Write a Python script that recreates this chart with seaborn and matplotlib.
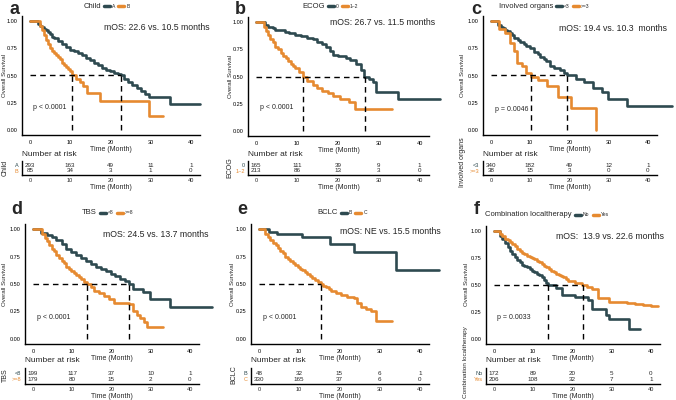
import numpy as np
import pandas as pd
import seaborn as sns
import matplotlib
matplotlib.use("Agg")
import matplotlib.pyplot as plt
from matplotlib.lines import Line2D

sns.set_style("white")
plt.rcParams['font.family'] = ['Liberation Sans', 'DejaVu Sans']

DARK = "#2E4A50"
ORANGE = "#E68A30"

risk_times = [0, 10, 20, 30, 40]

# ---- panel a : Child ----
a_title = "Child"
a_groups = ["A", "B"]
a_t1 = [0, 2, 2.5, 3, 3.5, 4, 4.5, 5, 5.5, 6, 7, 8, 9, 10, 11, 12, 13, 14, 15, 16, 17, 18, 19, 20, 21, 22, 22.6, 23.5, 24.5, 25.5, 26.5, 27.5, 28.5, 29.5, 34.8, 42.4]
a_s1 = [1, 0.98, 0.96, 0.95, 0.93, 0.92, 0.90, 0.88, 0.86, 0.85, 0.82, 0.79, 0.76, 0.74, 0.73, 0.71, 0.69, 0.66, 0.64, 0.62, 0.60, 0.57, 0.55, 0.54, 0.52, 0.51, 0.50, 0.47, 0.44, 0.41, 0.38, 0.36, 0.33, 0.30, 0.24, 0.24]
a_t2 = [0, 2.5, 3, 3.5, 4, 4.5, 5, 5.5, 6, 6.5, 7, 7.5, 8, 8.5, 9, 9.5, 10, 10.5, 11.5, 12.5, 13.3, 14.2, 17.4, 29.7, 33.2]
a_s2 = [1, 0.96, 0.92, 0.87, 0.83, 0.79, 0.75, 0.73, 0.71, 0.69, 0.67, 0.65, 0.62, 0.60, 0.58, 0.56, 0.54, 0.50, 0.47, 0.44, 0.40, 0.34, 0.26, 0.13, 0.13]
a_risk1 = [293, 163, 49, 11, 1]
a_risk2 = [85, 34, 3, 1, 0]
a_medians = [10.5, 22.6]
a_mos = "mOS: 22.6 vs. 10.5 months"
a_p = "p < 0.0001"

# ---- panel b : ECOG ----
b_title = "ECOG"
b_groups = ["0", "1~2"]
b_t1 = [0, 2.2, 3, 4, 4.7, 7, 8, 9.5, 11, 12.5, 14, 15, 16, 17, 18, 18.7, 20, 22, 23, 24.5, 25.7, 26.5, 27.5, 28.6, 29.4, 34.6, 45]
b_s1 = [1, 0.98, 0.96, 0.95, 0.93, 0.91, 0.90, 0.88, 0.87, 0.86, 0.85, 0.82, 0.80, 0.77, 0.74, 0.70, 0.69, 0.67, 0.65, 0.62, 0.56, 0.50, 0.48, 0.45, 0.36, 0.29, 0.29]
b_t2 = [0, 1.8, 2.5, 3, 3.5, 4, 4.7, 5.3, 6, 6.6, 7.2, 7.8, 8.5, 9, 9.6, 10.5, 11.5, 12.5, 13.8, 15, 16.2, 17.5, 18.7, 20.4, 22.8, 24.1, 33.3]
b_s2 = [1, 0.96, 0.92, 0.88, 0.85, 0.82, 0.77, 0.75, 0.72, 0.69, 0.67, 0.64, 0.62, 0.60, 0.58, 0.54, 0.50, 0.46, 0.42, 0.39, 0.37, 0.35, 0.32, 0.29, 0.26, 0.20, 0.20]
b_risk1 = [165, 111, 39, 9, 1]
b_risk2 = [213, 86, 13, 3, 0]
b_medians = [11.5, 26.7]
b_mos = "mOS: 26.7 vs. 11.5 months"
b_p = "p < 0.0001"

# ---- panel c : Involved organs ----
c_title = "Involved organs"
c_groups = ["<3", ">=3"]
c_t1 = [0, 1.8, 2.5, 3, 3.5, 4, 4.9, 5.5, 6, 7, 7.5, 8.5, 9, 10, 11, 12, 12.5, 13.5, 14, 15, 16, 17.5, 18.5, 19.4, 21.7, 23.8, 25.9, 28.4, 29.7, 34.7, 46.2]
c_s1 = [1, 0.97, 0.95, 0.94, 0.92, 0.91, 0.89, 0.87, 0.85, 0.83, 0.81, 0.79, 0.77, 0.75, 0.72, 0.70, 0.67, 0.65, 0.63, 0.59, 0.57, 0.55, 0.52, 0.50, 0.47, 0.44, 0.38, 0.35, 0.28, 0.22, 0.22]
c_t2 = [0, 2.2, 3.7, 4.9, 5.8, 6.6, 7.9, 9, 10.2, 12.1, 14.2, 17.1, 20.5, 26.8]
c_s2 = [1, 0.93, 0.89, 0.80, 0.73, 0.62, 0.59, 0.52, 0.49, 0.46, 0.40, 0.30, 0.20, 0.0]
c_risk1 = [340, 182, 49, 12, 1]
c_risk2 = [38, 15, 3, 0, 0]
c_medians = [10.3, 19.4]
c_mos = "mOS: 19.4 vs. 10.3  months"
c_p = "p = 0.0046"

# ---- panel d : TBS ----
d_title = "TBS"
d_groups = ["<8", ">=8"]
d_t1 = [0, 2, 3.5, 4.8, 6, 7.3, 8.5, 9.8, 11, 12.3, 13.5, 14.8, 16, 17.3, 18.5, 19.8, 21, 22.3, 23.5, 24.6, 25.6, 28.1, 29.8, 34.8, 45.7]
d_s1 = [1, 0.97, 0.95, 0.93, 0.90, 0.865, 0.82, 0.79, 0.77, 0.74, 0.71, 0.68, 0.66, 0.64, 0.62, 0.59, 0.57, 0.55, 0.53, 0.50, 0.45, 0.43, 0.36, 0.285, 0.285]
d_t2 = [0, 2.3, 3, 3.5, 4.2, 4.8, 5.4, 6, 6.7, 7.3, 8, 8.5, 9.2, 9.8, 10.5, 11, 11.7, 12.3, 13, 13.8, 14.7, 15.6, 16.8, 18.1, 19.3, 20.6, 24.4, 25.6, 26.5, 27.3, 28.2, 29, 33.2]
d_s2 = [1, 0.96, 0.92, 0.89, 0.86, 0.82, 0.80, 0.77, 0.74, 0.71, 0.69, 0.66, 0.64, 0.62, 0.60, 0.58, 0.56, 0.545, 0.52, 0.50, 0.47, 0.44, 0.42, 0.39, 0.36, 0.33, 0.315, 0.25, 0.22, 0.19, 0.15, 0.11, 0.11]
d_risk1 = [199, 117, 37, 10, 1]
d_risk2 = [179, 80, 15, 2, 0]
d_medians = [13.7, 24.5]
d_mos = "mOS: 24.5 vs. 13.7 months"
d_p = "p < 0.0001"

# ---- panel e : BCLC ----
e_title = "BCLC"
e_groups = ["B", "C"]
e_t1 = [0, 2.4, 4.5, 10.6, 17.6, 23.7, 34.1, 44.9]
e_s1 = [1, 0.98, 0.96, 0.93, 0.87, 0.79, 0.63, 0.63]
e_t2 = [0, 1.6, 2.2, 2.8, 3.5, 4.1, 4.7, 5.3, 5.9, 6.5, 7.2, 7.8, 8.4, 9, 9.6, 10.2, 10.8, 11.4, 12, 12.6, 13.2, 13.9, 14.6, 15.3, 16, 16.6, 17.3, 18, 19.2, 20.4, 22, 23.7, 24.5, 25.3, 26.5, 27.8, 29.2, 33.1]
e_s2 = [1, 0.96, 0.93, 0.90, 0.88, 0.86, 0.83, 0.80, 0.78, 0.75, 0.73, 0.71, 0.69, 0.67, 0.655, 0.64, 0.625, 0.61, 0.59, 0.57, 0.555, 0.54, 0.52, 0.50, 0.485, 0.47, 0.455, 0.44, 0.42, 0.40, 0.38, 0.37, 0.33, 0.29, 0.27, 0.25, 0.16, 0.16]
e_risk1 = [48, 32, 15, 6, 1]
e_risk2 = [330, 165, 37, 6, 0]
e_medians = [15.5]
e_mos = "mOS: NE vs. 15.5 months"
e_p = "p < 0.0001"

# ---- panel f : Combination localtherapy ----
f_title = "Combination localtherapy"
f_groups = ["No", "Yes"]
f_t1 = [0, 1.6, 2.2, 2.8, 3.5, 4.1, 4.7, 5.3, 6, 6.6, 7.2, 7.8, 8.5, 9.1, 9.7, 10.3, 11, 11.6, 12.2, 12.8, 13.3, 13.8, 15.7, 17.4, 20.7, 24, 25, 28.6, 29.2, 34.4, 37.3]
f_s1 = [1, 0.96, 0.93, 0.89, 0.85, 0.82, 0.79, 0.76, 0.73, 0.71, 0.69, 0.68, 0.665, 0.65, 0.635, 0.62, 0.605, 0.59, 0.57, 0.55, 0.52, 0.50, 0.47, 0.41, 0.39, 0.36, 0.28, 0.22, 0.18, 0.09, 0.09]
f_t2 = [0, 1.6, 2.2, 2.8, 3.5, 4.1, 4.7, 5.3, 6, 6.6, 7.2, 7.8, 8.5, 9.1, 9.7, 10.3, 11, 11.6, 12.2, 12.8, 13.4, 14, 14.6, 15.2, 15.8, 16.5, 17.1, 17.7, 18.3, 19, 20.7, 22.4, 23.6, 24.9, 26.5, 29.4, 34, 36, 38, 40, 41.9]
f_s2 = [1, 0.98, 0.96, 0.93, 0.92, 0.90, 0.88, 0.86, 0.84, 0.82, 0.80, 0.79, 0.775, 0.76, 0.75, 0.74, 0.725, 0.71, 0.695, 0.68, 0.665, 0.65, 0.635, 0.62, 0.605, 0.59, 0.58, 0.57, 0.555, 0.54, 0.52, 0.50, 0.48, 0.46, 0.38, 0.34, 0.33, 0.32, 0.31, 0.30, 0.30]
f_risk1 = [172, 89, 20, 5, 0]
f_risk2 = [206, 108, 32, 7, 1]
f_medians = [13.9, 22.6]
f_mos = "mOS:  13.9 vs. 22.6 months"
f_p = "p = 0.0033"

W, H = 676, 400
fig = plt.figure(figsize=(W / 100, H / 100), dpi=100)


def box(l, t, r, b):
    return [l / W, 1 - b / H, (r - l) / W, (b - t) / H]


panels = [
    dict(letter="a", title=a_title, groups=a_groups, t1=a_t1, s1=a_s1, t2=a_t2, s2=a_s2, r1=a_risk1, r2=a_risk2,
         med=a_medians, mos=a_mos, p=a_p, main=(22, 16, 200, 135), risk=(22, 161, 200, 175),
         lt=(10, 1), leg=(101, 6), mos_xy=(31.5, 0.945), p_xy=(0.8, 0.2), ylx=4.5, rlx=5, rly=168, rfs=5),
    dict(letter="b", title=b_title, groups=b_groups, t1=b_t1, s1=b_s1, t2=b_t2, s2=b_s2, r1=b_risk1, r2=b_risk2,
         med=b_medians, mos=b_mos, p=b_p, main=(248, 17, 429, 136), risk=(248, 161, 429, 175),
         lt=(235, 1), leg=(325, 6), mos_xy=(31, 0.995), p_xy=(1, 0.21), ylx=230, rlx=230, rly=168, rfs=5),
    dict(letter="c", title=c_title, groups=c_groups, t1=c_t1, s1=c_s1, t2=c_t2, s2=c_s2, r1=c_risk1, r2=c_risk2,
         med=c_medians, mos=c_mos, p=c_p, main=(483, 16, 657, 135), risk=(483, 161, 657, 175),
         lt=(471, 1), leg=(553, 6), mos_xy=(31.2, 0.93), p_xy=(1, 0.19), ylx=463, rlx=463, rly=162, rfs=5),
    dict(letter="d", title=d_title, groups=d_groups, t1=d_t1, s1=d_s1, t2=d_t2, s2=d_s2, r1=d_risk1, r2=d_risk2,
         med=d_medians, mos=d_mos, p=d_p, main=(25, 224, 199, 344), risk=(25, 368, 199, 384),
         lt=(11, 201), leg=(97, 213), mos_xy=(31.2, 0.95), p_xy=(1, 0.19), ylx=5, rlx=5, rly=375, rfs=5),
    dict(letter="e", title=e_title, groups=e_groups, t1=e_t1, s1=e_s1, t2=e_t2, s2=e_s2, r1=e_risk1, r2=e_risk2,
         med=e_medians, mos=e_mos, p=e_p, main=(251, 224, 429, 344), risk=(251, 368, 429, 384),
         lt=(237, 201), leg=(338, 213), mos_xy=(32.7, 0.985), p_xy=(1, 0.19), ylx=233, rlx=234, rly=375, rfs=5),
    dict(letter="f", title=f_title, groups=f_groups, t1=f_t1, s1=f_s1, t2=f_t2, s2=f_s2, r1=f_risk1, r2=f_risk2,
         med=f_medians, mos=f_mos, p=f_p, main=(486, 226, 660, 344), risk=(486, 368, 660, 384),
         lt=(474, 201), leg=(572, 215), mos_xy=(29.5, 0.955), p_xy=(0.8, 0.2), ylx=467, rlx=466, rly=362, rfs=4.6),
]

TICK_FS = 4.0
for P in panels:
    ax = fig.add_axes(box(*P["main"]))
    df = pd.concat([
        pd.DataFrame({"time": P["t1"], "surv": P["s1"], "group": P["groups"][0]}),
        pd.DataFrame({"time": P["t2"], "surv": P["s2"], "group": P["groups"][1]}),
    ])
    sns.lineplot(data=df, x="time", y="surv", hue="group", hue_order=P["groups"],
                 palette=[DARK, ORANGE], drawstyle="steps-post", estimator=None,
                 legend=False, lw=1.9, ax=ax)
    for ln in ax.lines:
        ln.set_clip_on(False)
    # median lines
    mx = max(P["med"])
    ax.plot([0, mx], [0.5, 0.5], ls=(0, (4, 3)), color="black", lw=1.0)
    for m in P["med"]:
        ax.plot([m, m], [0, 0.5], ls=(0, (4, 3)), color="black", lw=1.0)
    ax.set_xlim(-2, 42.3)
    ax.set_ylim(-0.05, 1.05)
    ax.set_xticks(risk_times)
    ax.set_yticks([0, 0.25, 0.5, 0.75, 1.0])
    ax.set_yticklabels(["0.00", "0.25", "0.50", "0.75", "1.00"])
    ax.tick_params(labelsize=TICK_FS, length=2, width=0.6, pad=1.5, colors="black")
    for s in ["top", "right"]:
        ax.spines[s].set_visible(False)
    for s in ["left", "bottom"]:
        ax.spines[s].set_color("black")
        ax.spines[s].set_linewidth(1.0)
    ax.set_xlabel("Time (Month)", fontsize=5, labelpad=1)
    ax.set_ylabel("")
    my = (P["main"][1] + P["main"][3]) / 2
    fig.text(P["ylx"] / W, 1 - my / H, "Overall Survival", fontsize=4.4, rotation=90,
             ha="center", va="center")
    ax.text(*P["mos_xy"], P["mos"], fontsize=6.3, ha="center", va="center")
    ax.text(*P["p_xy"], P["p"], fontsize=5, ha="left", va="center")

    # risk table
    ar = fig.add_axes(box(*P["risk"]))
    ar.set_xlim(-2, 42.3)
    ar.set_ylim(0, 1)
    rows_y = [0.68, 0.3]
    for yy, vals in zip(rows_y, [P["r1"], P["r2"]]):
        for tt, v in zip(risk_times, vals):
            ar.text(tt, yy, str(v), fontsize=4.5, ha="center", va="center")
    ar.set_xticks(risk_times)
    ar.set_yticks(rows_y)
    ar.set_yticklabels(P["groups"])
    for lab, col in zip(ar.get_yticklabels(), [DARK, ORANGE]):
        lab.set_color(col)
    ar.tick_params(labelsize=4.0, length=1.5, width=0.6, pad=1)
    for s in ["top", "right"]:
        ar.spines[s].set_visible(False)
    for s in ["left", "bottom"]:
        ar.spines[s].set_color("black")
        ar.spines[s].set_linewidth(1.0)
    ar.set_xlabel("Time (Month)", fontsize=5, labelpad=0.5)
    ar.set_ylabel("")
    fig.text(P["rlx"] / W, 1 - P["rly"] / H, P["title"], fontsize=P["rfs"], rotation=90,
             ha="center", va="center")
    ar.text(0, 1.25, "Number at risk", transform=ar.transAxes, fontsize=6, ha="left", va="bottom")

    # panel letter
    lx, ly = P["lt"]
    fig.text(lx / W, 1 - ly / H, P["letter"], fontsize=13, fontweight="bold", ha="left", va="top")

    # legend
    gx, gy = P["leg"]
    fig.text(gx / W, 1 - gy / H, P["title"], fontsize=5.5, ha="right", va="center")
    handles = [Line2D([], [], color=DARK, lw=2.5), Line2D([], [], color=ORANGE, lw=2.5)]
    fig.legend(handles, P["groups"], loc="center left", bbox_to_anchor=((gx + 3) / W, 1 - gy / H),
               ncol=2, frameon=False, fontsize=3.6, handlelength=1.2, handletextpad=0.4,
               columnspacing=0.6, borderpad=0, borderaxespad=0)

fig.savefig("out.png", dpi=100)
